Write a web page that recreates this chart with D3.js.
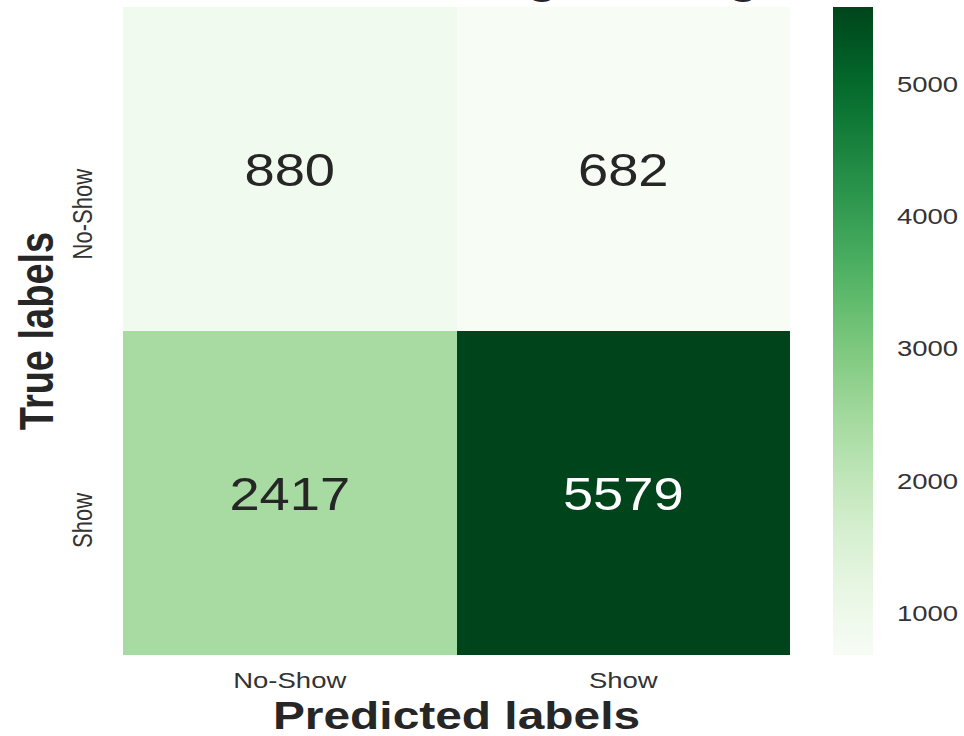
<!DOCTYPE html>
<html>
<head>
<meta charset="utf-8">
<script src="https://cdn.jsdelivr.net/npm/d3@7"></script>
<style>
  html, body { margin: 0; padding: 0; background: #ffffff; }
  svg { display: block; }
  text { font-family: "Liberation Sans", Arial, sans-serif; fill: #262626; }
</style>
</head>
<body>
<svg id="chart" width="964" height="736"></svg>
<script>
// Confusion matrix: rows = true class, columns = predicted class
const titleText = "Confusion Matrix for Logistic Regression";
const predictedLabels = ["No-Show", "Show"];
const trueLabels = ["No-Show", "Show"];
const rowNoShow = [880, 682];
const rowShow = [2417, 5579];
const colorbarTicks = [1000, 2000, 3000, 4000, 5000];

const counts = [rowNoShow, rowShow];
const allValues = counts.flat();
const vMin = d3.min(allValues), vMax = d3.max(allValues);

const svg = d3.select("#chart");

// Layout
const plot = { left: 123, right: 790, top: 7, bottom: 655 };
const cbar = { left: 833, right: 873, top: 7, bottom: 655 };

const x = d3.scaleBand().domain(predictedLabels).range([plot.left, plot.right]);
const y = d3.scaleBand().domain(trueLabels).range([plot.top, plot.bottom]);
const color = d3.scaleSequential(d3.interpolateGreens).domain([vMin, vMax]);

// helper: text with horizontal stretch
function stretchedText(g, tx, ty, sx, rotate) {
  return g.append("text")
    .attr("transform", `translate(${tx},${ty}) scale(${sx},1)` + (rotate ? ` rotate(${rotate})` : ""));
}

// Cells
const cells = [];
trueLabels.forEach((t, i) => predictedLabels.forEach((p, j) => cells.push({ t, p, v: counts[i][j] })));

svg.append("g").selectAll("rect")
  .data(cells)
  .join("rect")
  .attr("x", d => x(d.p))
  .attr("y", d => y(d.t))
  .attr("width", x.bandwidth())
  .attr("height", y.bandwidth())
  .attr("fill", d => color(d.v))
  .attr("shape-rendering", "crispEdges");

// Cell annotations
const ann = svg.append("g");
cells.forEach(d => {
  const c = color(d.v);
  stretchedText(ann, x(d.p) + x.bandwidth() / 2, y(d.t) + y.bandwidth() / 2, 1.18)
    .attr("text-anchor", "middle")
    .attr("dy", "0.36em")
    .style("font-size", "46px")
    .style("fill", d3.lab(c).l > 55 ? "#262626" : "#ffffff")
    .text(d.v);
});

// X tick labels
const xt = svg.append("g");
predictedLabels.forEach(p => {
  stretchedText(xt, x(p) + x.bandwidth() / 2, 688, 1.25)
    .attr("text-anchor", "middle")
    .style("font-size", "22px")
    .style("fill", "#333")
    .text(p);
});

// Y tick labels (rotated, ending at the row centre)
const yt = svg.append("g");
trueLabels.forEach(t => {
  stretchedText(yt, 92, y(t) + y.bandwidth() / 2, 1.22, -90)
    .attr("text-anchor", "end")
    .style("font-size", "22px")
    .style("fill", "#333")
    .text(t);
});

// Axis titles
stretchedText(svg, (plot.left + plot.right) / 2, 729, 1.26)
  .attr("text-anchor", "middle")
  .style("font-size", "38px")
  .style("font-weight", "bold")
  .text("Predicted labels");

stretchedText(svg, 53, (plot.top + plot.bottom) / 2, 1.28, -90)
  .attr("text-anchor", "middle")
  .style("font-size", "38px")
  .style("font-weight", "bold")
  .text("True labels");

// Chart title (sits above the visible area)
stretchedText(svg, (plot.left + plot.right) / 2, -6, 1.27)
  .attr("text-anchor", "middle")
  .style("font-size", "38px")
  .style("font-weight", "bold")
  .text(titleText);

// Colorbar
const cScale = d3.scaleLinear().domain([vMin, vMax]).range([cbar.bottom, cbar.top]);
const defs = svg.append("defs");
const grad = defs.append("linearGradient")
  .attr("id", "cbarGrad")
  .attr("x1", 0).attr("y1", 1).attr("x2", 0).attr("y2", 0);
d3.range(0, 1.0001, 0.02).forEach(f => {
  grad.append("stop")
    .attr("offset", f)
    .attr("stop-color", color(vMin + f * (vMax - vMin)));
});
svg.append("rect")
  .attr("x", cbar.left)
  .attr("y", cbar.top)
  .attr("width", cbar.right - cbar.left)
  .attr("height", cbar.bottom - cbar.top)
  .attr("fill", "url(#cbarGrad)");

const cb = svg.append("g");
colorbarTicks.forEach(v => {
  stretchedText(cb, 897, cScale(v), 1.25)
    .attr("text-anchor", "start")
    .attr("dy", "0.36em")
    .style("font-size", "22px")
    .style("fill", "#333")
    .text(v);
});
</script>
</body>
</html>
